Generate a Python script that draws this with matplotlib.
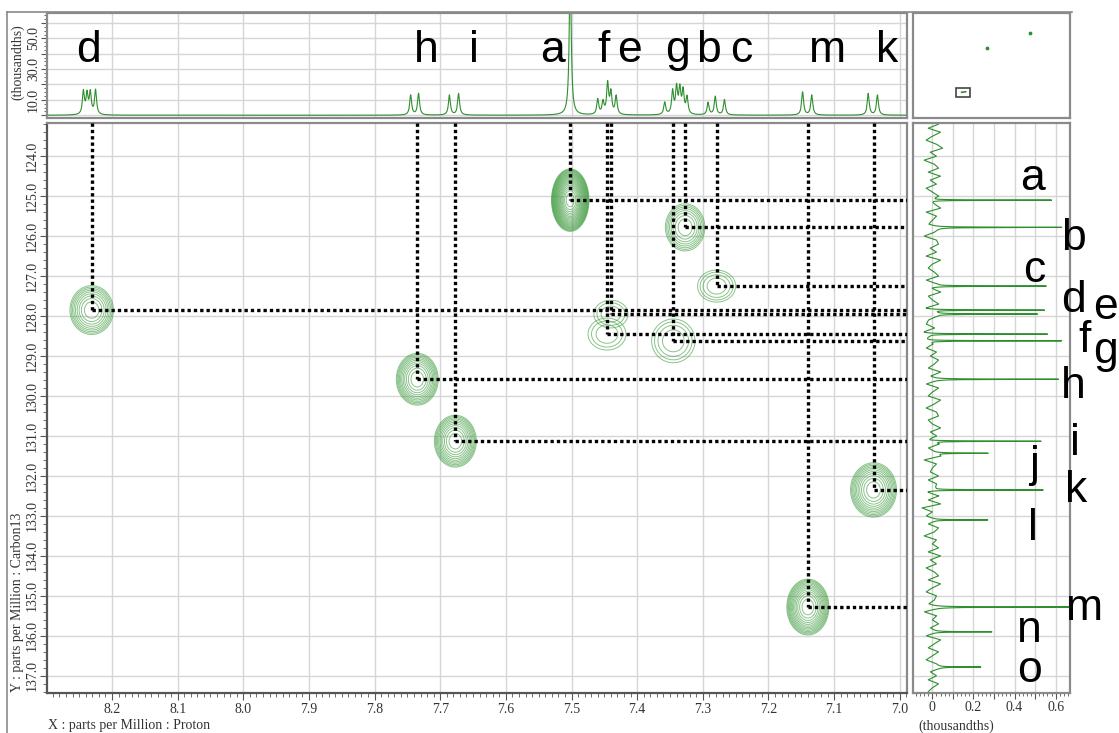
import matplotlib
matplotlib.use("Agg")
import matplotlib.pyplot as plt
from matplotlib.ticker import MultipleLocator, AutoMinorLocator, FuncFormatter
from matplotlib.lines import Line2D
from matplotlib.patches import Rectangle
import numpy as np

# HSQC cross peaks: proton shift, carbon shift, contour height, line widths (ppm)
peak_labels = ['a', 'b', 'c', 'd', 'e', 'f', 'g', 'h', 'i', 'k', 'm']
peak_h = [7.502, 7.327, 7.279, 8.231, 7.440, 7.446, 7.345, 7.735, 7.677, 7.040, 7.140]
peak_c = [125.10, 125.78, 127.25, 127.85, 127.95, 128.45, 128.62, 129.58, 131.13, 132.35, 135.28]
peak_amp = [135.5, 5.96, 2.44, 7.45, 1.95, 1.95, 2.44, 11.6, 11.6, 11.6, 18.2]
peak_sx = [0.0091, 0.0159, 0.0217, 0.0165, 0.0225, 0.0250, 0.0247, 0.0144, 0.0144, 0.0158, 0.0133]
peak_sy = [0.249, 0.312, 0.300, 0.305, 0.300, 0.346, 0.410, 0.293, 0.293, 0.307, 0.290]

# 1H projection lines (ppm, height in thousandths)
h1_ppm = [8.2435, 8.238, 8.233, 8.225,
          7.745, 7.733,
          7.686, 7.672,
          7.502,
          7.460, 7.452, 7.445, 7.440, 7.432,
          7.358, 7.346, 7.340, 7.335, 7.330, 7.324,
          7.292, 7.281, 7.267,
          7.148, 7.134,
          7.048, 7.034]
h1_int = [15, 13, 14, 16,
          13, 14,
          13, 14,
          95,
          10, 8, 20, 14, 12,
          8, 15, 17, 16, 15, 11,
          8, 12, 10,
          15, 13,
          14, 13]

# 13C projection lines
c13_labels = list('abcdefghijklmno')
c13_ppm = [125.10, 125.78, 127.25, 127.85, 127.95, 128.45, 128.62, 129.58,
           131.13, 131.43, 132.35, 133.10, 135.28, 135.90, 136.78]
c13_int = [0.60, 0.61, 0.61, 0.62, 0.55, 0.66, 0.66, 0.60,
           0.60, 0.28, 0.61, 0.25, 0.65, 0.27, 0.20]

# baseline noise of the 13C trace, 123.2 .. 137.4 ppm in 0.1 steps
c13_noise = [
    0.03, -0.02, 0.04, 0.00, -0.03, 0.02, 0.05, -0.01, 0.02, -0.04,
    0.01, 0.03, -0.02, 0.04, -0.01, 0.02, -0.03, 0.00, 0.03, -0.02,
    0.01, 0.04, -0.03, 0.02, 0.00, -0.02, 0.03, 0.01, -0.04, 0.02,
    0.03, -0.01, 0.02, -0.03, 0.04, 0.00, -0.02, 0.01, 0.03, -0.03,
    0.02, -0.01, 0.04, -0.02, 0.00, 0.03, -0.04, 0.01, 0.02, -0.02,
    -0.03, 0.01, -0.05, -0.02, -0.04, 0.00, -0.03, 0.02, -0.01, 0.03,
    0.01, -0.02, 0.04, -0.01, 0.02, -0.03, 0.03, 0.00, -0.02, 0.04,
    0.01, -0.03, 0.02, 0.03, -0.02, 0.00, 0.04, -0.01, 0.02, -0.03,
    0.03, -0.02, 0.01, 0.04, -0.04, 0.02, 0.00, -0.01, 0.03, -0.02,
    0.02, 0.01, -0.03, 0.03, -0.02, 0.04, -0.05, 0.00, -0.03, 0.02,
    -0.02, 0.03, 0.01, -0.04, 0.02, 0.00, 0.03, -0.02, 0.04, -0.01,
    0.02, -0.03, 0.01, 0.03, -0.02, 0.04, 0.00, -0.03, 0.02, 0.01,
    -0.02, 0.03, -0.04, 0.02, 0.00, 0.03, -0.01, 0.02, -0.03, 0.04,
    0.01, -0.02, 0.03, 0.00, -0.03, 0.02, 0.04, -0.01, 0.02, -0.02,
    0.03, 0.00, -0.02,
]

# letter positions over the projections
top_label_text = ['d', 'h', 'i', 'a', 'f', 'e', 'g', 'b', 'c', 'm', 'k']
top_label_x = [8.236, 7.721, 7.649, 7.529, 7.451, 7.411, 7.338, 7.292, 7.242, 7.110, 7.020]
right_label_pos = [(0.489, 124.85), (0.686, 126.35), (0.494, 127.15), (0.686, 127.90),
                   (0.844, 128.08), (0.741, 128.90), (0.844, 129.18), (0.686, 130.05),
                   (0.696, 131.48), (0.494, 132.03), (0.701, 132.65), (0.489, 133.60),
                   (0.741, 135.60), (0.474, 136.15), (0.474, 137.15)]

# overview thumbnail in the corner
corner_dots_x = [0.471, 0.745]
corner_dots_y = [0.667, 0.810]

GREEN = '#2f8f2f'
FRAME = '#8a8a8a'
GRID = '#d6d6d6'
plt.rcParams['font.family'] = ['Liberation Serif', 'DejaVu Serif']

W, H = 1119, 733
fig = plt.figure(figsize=(W / 100, H / 100), dpi=100)


def box(x0, y0, x1, y1):
    return [x0 / W, 1 - y1 / H, (x1 - x0) / W, (y1 - y0) / H]


ax = fig.add_axes(box(47, 123, 907, 693))
ax_top = fig.add_axes(box(47, 13, 907, 118), sharex=ax)
ax_right = fig.add_axes(box(913, 123, 1070, 693), sharey=ax)
ax_corner = fig.add_axes(box(913, 13, 1070, 118))

ax.set_xlim(8.299, 6.989)
ax.set_ylim(137.43, 123.17)

for a in (ax, ax_top, ax_right, ax_corner):
    for s in a.spines.values():
        s.set_color(FRAME)
        s.set_linewidth(1.6)
ax.spines['bottom'].set_color('#555555')
ax.spines['left'].set_color('#555555')

# main 2D panel
ax.xaxis.set_major_locator(MultipleLocator(0.1))
ax.xaxis.set_minor_locator(AutoMinorLocator(10))
ax.yaxis.set_major_locator(MultipleLocator(1.0))
ax.yaxis.set_minor_locator(AutoMinorLocator(5))
ax.xaxis.set_major_formatter(FuncFormatter(lambda v, p: f'{v:.1f}'))
ax.yaxis.set_major_formatter(FuncFormatter(lambda v, p: f'{v:.1f}'))
ax.tick_params(which='major', direction='out', length=5, pad=2, color='#555555',
               labelsize=10, labelcolor='#333333')
ax.tick_params(which='minor', direction='out', length=3, color='#555555')
ax.tick_params(axis='y', labelrotation=90, pad=1)
for t in ax.get_yticklabels():
    t.set_va('center')
ax.grid(which='major', color=GRID, lw=1.0)
ax.set_axisbelow(True)

levels = 1.25 ** np.arange(0, 30)
for h, c, amp, sx, sy in zip(peak_h, peak_c, peak_amp, peak_sx, peak_sy):
    gx = np.linspace(h - 4 * sx, h + 4 * sx, 160)
    gy = np.linspace(c - 4 * sy, c + 4 * sy, 160)
    X, Y = np.meshgrid(gx, gy)
    Z = amp * np.exp(-0.5 * (((X - h) / sx) ** 2 + ((Y - c) / sy) ** 2))
    ax.contour(X, Y, Z, levels=levels[levels < amp], colors='#3d9a3d',
               linewidths=0.7, alpha=0.6, zorder=2)

# dotted guides from each cross peak up to the 1H trace and across to the 13C trace
x_right = ax.get_xlim()[1]
y_top = ax.get_ylim()[1]
for h, c in zip(peak_h, peak_c):
    ax.plot([h, h], [y_top, c], color='black', lw=2.4, linestyle=(0, (1, 0.9)),
            dash_capstyle='butt', zorder=3)
    ax.plot([h, x_right], [c, c], color='black', lw=2.4, linestyle=(0, (1, 0.9)),
            dash_capstyle='butt', zorder=3)

# 1H projection
xs = np.linspace(6.98, 8.32, 7000)
hw = 0.0018
spec = np.zeros_like(xs)
for p, i in zip(h1_ppm, h1_int):
    spec += i * hw ** 2 / ((xs - p) ** 2 + hw ** 2)
ax_top.plot(xs, spec, color=GREEN, lw=0.8)
ax_top.set_ylim(-1.8, 66.5)
ax_top.yaxis.set_major_locator(MultipleLocator(10))
ax_top.yaxis.set_minor_locator(MultipleLocator(2.5))
ax_top.yaxis.set_major_formatter(FuncFormatter(lambda v, p: f'{v:.1f}' if round(v) in (10, 30, 50) else ''))
ax_top.tick_params(axis='x', which='both', bottom=False, labelbottom=False)
ax_top.tick_params(axis='y', which='major', direction='out', length=4, pad=1, color='#555555',
                   labelsize=10, labelcolor='#333333', labelrotation=90)
ax_top.tick_params(axis='y', which='minor', direction='out', length=2, color='#555555')
for t in ax_top.get_yticklabels():
    t.set_va('center')
ax_top.grid(which='major', color=GRID, lw=1.0)
for txt, x in zip(top_label_text, top_label_x):
    ax_top.text(x, 34.6, txt, ha='center', va='baseline', fontsize=32,
                family='Liberation Sans', color='black')

# 13C projection
ys = np.arange(123.1, 137.5, 0.004)
noise_ppm = 123.2 + 0.1 * np.arange(len(c13_noise))
trace = np.interp(ys, noise_ppm, c13_noise)
cw = 0.006
for p, i in zip(c13_ppm, c13_int):
    trace += i * cw ** 2 / ((ys - p) ** 2 + cw ** 2)
ax_right.plot(trace, ys, color=GREEN, lw=0.8)
ax_right.set_xlim(-0.094, 0.67)
ax_right.xaxis.set_major_locator(MultipleLocator(0.1))
ax_right.xaxis.set_minor_locator(MultipleLocator(0.02))


def thou_fmt(v, p):
    k = int(round(v * 10))
    if k % 2:
        return ''
    return '0' if k == 0 else f'{v:.1f}'


ax_right.xaxis.set_major_formatter(FuncFormatter(thou_fmt))
ax_right.tick_params(axis='y', which='both', left=False, labelleft=False)
ax_right.tick_params(axis='x', which='major', direction='out', length=4, pad=2, color='#555555',
                     labelsize=10, labelcolor='#333333')
ax_right.tick_params(axis='x', which='minor', direction='out', length=2, color='#555555')
ax_right.grid(which='major', color=GRID, lw=1.0)
for txt, (x, y) in zip(c13_labels, right_label_pos):
    ax_right.text(x, y, txt, ha='center', va='baseline', fontsize=32,
                  family='Liberation Sans', color='black', clip_on=False)

# corner overview
ax_corner.set_xlim(0, 1)
ax_corner.set_ylim(0, 1)
ax_corner.set_xticks([])
ax_corner.set_yticks([])
ax_corner.scatter(corner_dots_x, corner_dots_y, s=3, color=GREEN)
ax_corner.add_patch(Rectangle((0.275, 0.20), 0.09, 0.09, fill=False, ec='#444444', lw=1.2))
ax_corner.plot([0.31, 0.335], [0.245, 0.25], color=GREEN, lw=1.2)

# axis titles
fig.text(18 / W, 1 - 692 / H, 'Y : parts per Million : Carbon13', rotation=90,
         ha='center', va='bottom', fontsize=10, color='#333333')
fig.text(18 / W, 1 - 62 / H, '(thousandths)', rotation=90, ha='center', va='center',
         fontsize=10, color='#333333')
fig.text(48 / W, 1 - 726 / H, 'X : parts per Million : Proton', ha='left', va='center',
         fontsize=10, color='#333333')
fig.text(918 / W, 1 - 726 / H, '(thousandths)', ha='left', va='center',
         fontsize=10, color='#333333')

# outer frame
fig.add_artist(Line2D([7 / W, 7 / W], [0, 1 - 12 / H], color=FRAME, lw=1.2))
fig.add_artist(Line2D([7 / W, 1072 / W], [1 - 12 / H, 1 - 12 / H], color=FRAME, lw=1.2))

fig.savefig('out.png', dpi=100)
